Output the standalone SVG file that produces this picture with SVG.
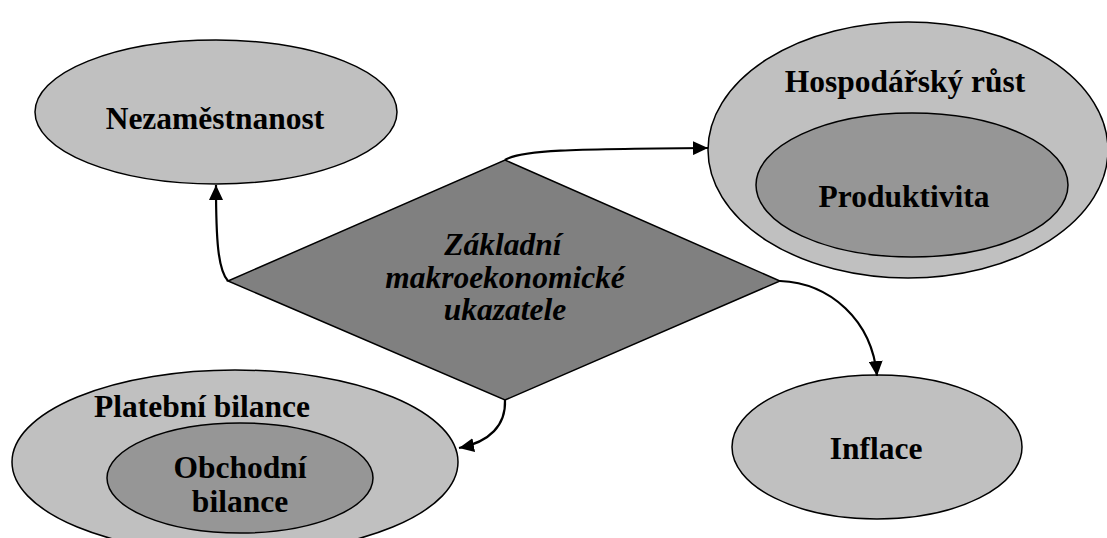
<svg xmlns="http://www.w3.org/2000/svg" width="1107" height="538" viewBox="0 0 1107 538">
  <style>
    .outer { fill: #c0c0c0; stroke: #000; stroke-width: 1.5; }
    .inner { fill: #969696; stroke: #000; stroke-width: 1.5; }
    .dia { fill: #808080; stroke: #000; stroke-width: 1.5; }
    .lbl { font-family: "Liberation Serif", "Times New Roman", serif; font-weight: bold; font-size: 31.5px; fill: #000; text-anchor: middle; }
    .it { font-style: italic; }
    .conn { fill: none; stroke: #000; stroke-width: 2.2; marker-end: url(#arr); }
  </style>
  <defs>
    <marker id="arr" markerUnits="userSpaceOnUse" markerWidth="16" markerHeight="14" refX="15" refY="7" orient="auto">
      <path d="M0,0 L15,7 L0,14 z" fill="#000"/>
    </marker>
  </defs>
  <rect width="1107" height="538" fill="#fff"/>

  <g id="nezamestnanost">
    <ellipse class="outer" cx="216" cy="112" rx="181" ry="72"/>
    <text class="lbl" x="215" y="129">Nezaměstnanost</text>
  </g>

  <g id="hospodarsky-rust">
    <ellipse class="outer" cx="908" cy="150" rx="200" ry="128"/>
    <text class="lbl" x="905" y="92">Hospodářský růst</text>
  </g>

  <g id="produktivita">
    <ellipse class="inner" cx="912" cy="185" rx="156" ry="72"/>
    <text class="lbl" x="904" y="207">Produktivita</text>
  </g>

  <g id="platebni-bilance">
    <ellipse class="outer" cx="235" cy="462" rx="223" ry="92"/>
    <text class="lbl" x="202" y="417">Platební bilance</text>
  </g>

  <g id="obchodni-bilance">
    <ellipse class="inner" cx="240" cy="478" rx="133" ry="55"/>
    <text class="lbl" x="240" y="478">Obchodní</text>
    <text class="lbl" x="240" y="512">bilance</text>
  </g>

  <g id="inflace">
    <ellipse class="outer" cx="877" cy="447" rx="145" ry="72"/>
    <text class="lbl" x="876" y="459">Inflace</text>
  </g>

  <g id="zakladni-ukazatele">
    <polygon class="dia" points="228,281 505,160 780,281 505,400"/>
    <text class="lbl it" x="503" y="255">Základní</text>
    <text class="lbl it" x="505" y="288">makroekonomické</text>
    <text class="lbl it" x="505" y="320">ukazatele</text>
  </g>

  <g id="connectors">
    <path class="conn" d="M228,281 C 218,270 216,240 216,185"/>
    <path class="conn" d="M505,160 C 520,150 570,149 708,148"/>
    <path class="conn" d="M780,281 C 830,283 872,320 877,376"/>
    <path class="conn" d="M505,400 C 506,425 490,442 459,448"/>
  </g>
</svg>
